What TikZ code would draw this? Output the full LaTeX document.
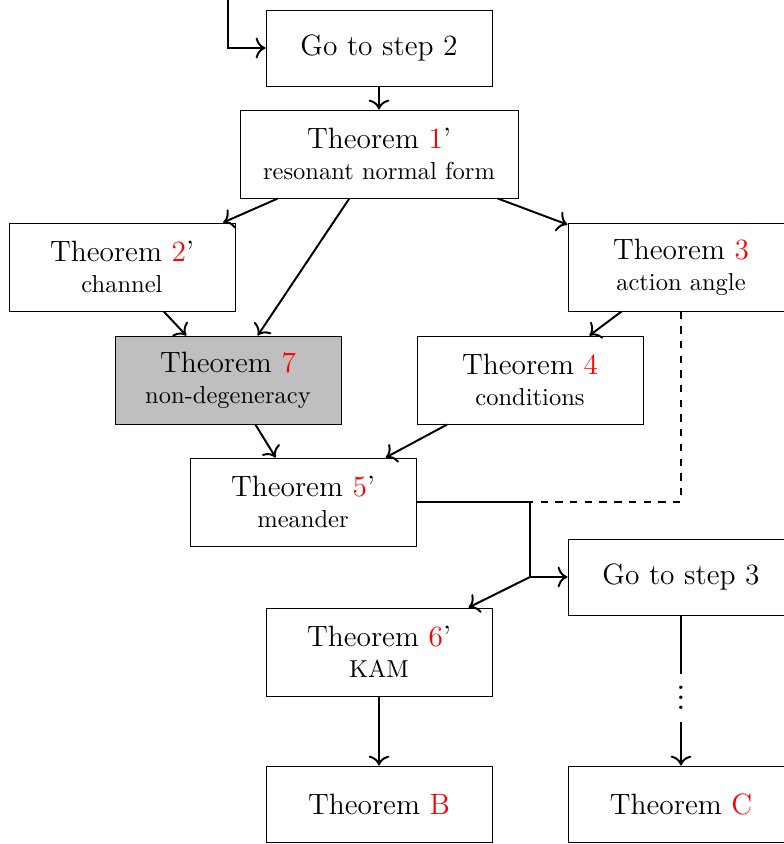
\documentclass[tikz,border=0pt]{standalone}
\usepackage{xcolor}
\usetikzlibrary{arrows.meta}
\begin{document}
\begin{tikzpicture}[x=0.408pt,y=-0.408pt,
  box/.style={draw,line width=0.4pt,align=center,font=\large,inner sep=0pt,minimum width=226*0.408pt,minimum height=88*0.408pt},
  sbox/.style={box,minimum height=76*0.408pt},
  conn/.style={line width=0.8pt,-{To[scale=1.2]}}]
\useasboundingbox (0,0) rectangle (784,844);
\node[sbox] (go2) at (379,48) {Go to step 2};
\node[box,minimum width=278*0.408pt] (t1) at (379,154) {Theorem \textcolor{red}{1}'\\[-1.5pt] {\normalsize resonant normal form}};
\node[box] (t2) at (122,267) {Theorem \textcolor{red}{2}'\\[-1.5pt] {\normalsize channel}};
\node[box] (t3) at (681,267) {Theorem \textcolor{red}{3}\\[-1.5pt] {\normalsize action angle}};
\node[box,fill=lightgray] (t7) at (228,380) {Theorem \textcolor{red}{7}\\[-1.5pt] {\normalsize non-degeneracy}};
\node[box] (t4) at (530,380) {Theorem \textcolor{red}{4}\\[-1.5pt] {\normalsize conditions}};
\node[box] (t5) at (303,502) {Theorem \textcolor{red}{5}'\\[-1.5pt] {\normalsize meander}};
\node[sbox] (go3) at (681,577) {Go to step 3};
\node[box] (t6) at (379,652) {Theorem \textcolor{red}{6}'\\[-1.5pt] {\normalsize KAM}};
\node[sbox] (tB) at (379,804) {Theorem \textcolor{red}{B}};
\node[sbox] (tC) at (681,804) {Theorem \textcolor{red}{C}};
\coordinate (start) at (228,0);
\coordinate (j2) at (530,577);
\coordinate (j1) at (t5.east -| j2);
\draw[conn] (start) |- (go2.west);
\draw[conn] (go2) -- (t1);
\draw[conn] (t1) -- (t2);
\draw[conn] (t1) -- (t7);
\draw[conn] (t1) -- (t3);
\draw[conn] (t2) -- (t7);
\draw[conn] (t3) -- (t4);
\draw[conn] (t7) -- (t5);
\draw[conn] (t4) -- (t5);
\draw[line width=0.8pt] (t5.east) -- (j1) -- (j2);
\draw[conn] (j2) -- (go3.west);
\draw[conn] (j2) -- (t6);
\draw[line width=0.8pt,dashed] (t3.south) |- (j1);
\draw[conn] (t6) -- (tB);
\draw[conn] (go3) -- node[pos=0.55,fill=white,inner sep=0pt,text height=14.3pt,text depth=4.9pt,font=\Large]{$\vdots$} (tC);
\end{tikzpicture}
\end{document}
